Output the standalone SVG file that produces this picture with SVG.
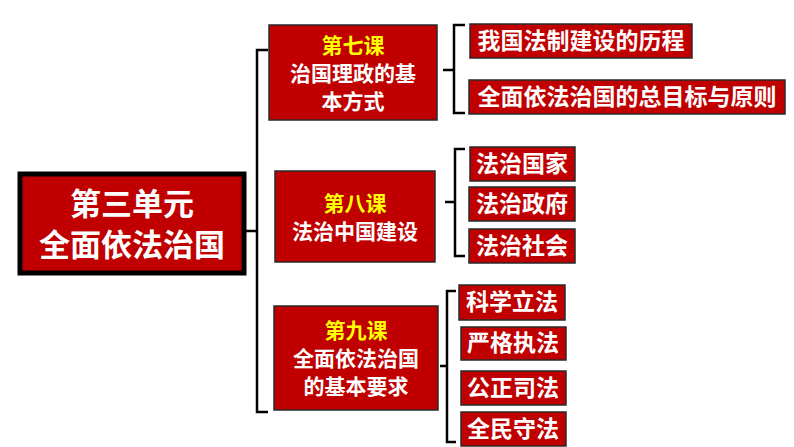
<svg xmlns="http://www.w3.org/2000/svg" width="794" height="447" viewBox="0 0 794 447">
<style>
.b{fill:#c00000;stroke:#2a2a2a;stroke-width:1.5}
.t{font-family:"Noto Sans CJK SC",sans-serif;font-weight:bold;fill:#fff;text-anchor:middle}
.y{fill:#ffff00}
.l{fill:none;stroke:#000;stroke-width:2.5}
.s{font-size:23px}
.m{font-size:21px}
</style>
<g id="connectors">
<path class="l" d="M268,50 H257 V412 H268 M245,231 H257"/>
<path class="l" d="M465,25 H454 V113 H465 M443,70 H454"/>
<path class="l" d="M465,149 H455 V256 H465 M445,202 H455"/>
<path class="l" d="M456,291 H447 V442 H456 M440,366 H447"/>
</g>
<g id="root">
<rect x="20" y="174" width="224" height="99" fill="#c00000" stroke="#000" stroke-width="5"/>
<text class="t" x="132" y="215" font-size="31">第三单元</text>
<text class="t" x="132" y="256" font-size="31">全面依法治国</text>
</g>
<g id="l7">
<rect class="b" x="269" y="25" width="168" height="95"/>
<text class="t y m" x="353" y="53">第七课</text>
<text class="t m" x="353" y="81">治国理政的基</text>
<text class="t m" x="353" y="109">本方式</text>
</g>
<g id="l8">
<rect class="b" x="275" y="171" width="160" height="91"/>
<text class="t y m" x="355" y="211">第八课</text>
<text class="t m" x="355" y="239">法治中国建设</text>
</g>
<g id="l9">
<rect class="b" x="274" y="306" width="164" height="104"/>
<text class="t y m" x="356" y="338">第九课</text>
<text class="t m" x="356" y="366">全面依法治国</text>
<text class="t m" x="356" y="394">的基本要求</text>
</g>
<g id="n1"><rect class="b" x="470" y="24" width="222" height="34"/><text class="t s" x="581" y="49">我国法制建设的历程</text></g>
<g id="n2"><rect class="b" x="469" y="80" width="316" height="34"/><text class="t s" x="627" y="105">全面依法治国的总目标与原则</text></g>
<g id="n3"><rect class="b" x="470" y="147" width="105" height="34"/><text class="t s" x="522" y="172">法治国家</text></g>
<g id="n4"><rect class="b" x="469" y="187" width="106" height="34"/><text class="t s" x="522" y="212">法治政府</text></g>
<g id="n5"><rect class="b" x="469" y="229" width="106" height="34"/><text class="t s" x="522" y="254">法治社会</text></g>
<g id="n6"><rect class="b" x="459" y="285" width="106" height="35"/><text class="t s" x="512" y="310">科学立法</text></g>
<g id="n7"><rect class="b" x="461" y="327" width="105" height="33"/><text class="t s" x="513" y="351">严格执法</text></g>
<g id="n8"><rect class="b" x="461" y="371" width="105" height="34"/><text class="t s" x="513" y="396">公正司法</text></g>
<g id="n9"><rect class="b" x="461" y="412" width="105" height="34"/><text class="t s" x="513" y="437">全民守法</text></g>
</svg>
